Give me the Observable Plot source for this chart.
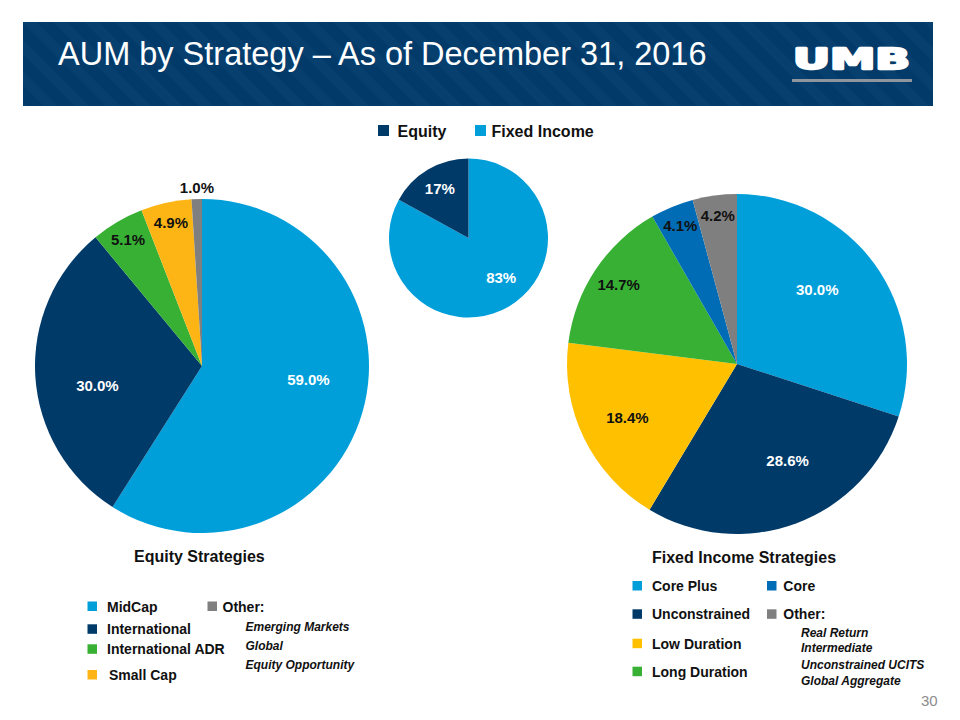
<!DOCTYPE html>
<html>
<head>
<meta charset="utf-8">
<script src="https://cdn.jsdelivr.net/npm/d3@7"></script>
<script src="https://cdn.jsdelivr.net/npm/@observablehq/plot@0.6"></script>
<style>
  html, body { margin: 0; padding: 0; background: #ffffff; }
  #page { position: relative; width: 960px; height: 720px; overflow: hidden; font-family: "Liberation Sans", Arial, sans-serif; }
  #bg { position: absolute; left: 0; top: 0; }
  #chart { position: absolute; left: 0; top: 110px; }
</style>
</head>
<body>
<div id="page">
  <svg id="bg" width="960" height="720"></svg>
  <div id="chart"></div>
</div>
<script>
// ---------------- DATA ----------------
const titleText = "AUM by Strategy – As of December 31, 2016";
const pageNumber = "30";

const allocationCategories = ["Equity", "Fixed Income"];
const allocationValues = [17, 83];
const allocationPieOrder = ["Fixed Income", "Equity"];

const equityTitle = "Equity Strategies";
const equityCategories = ["MidCap", "International", "International ADR", "Small Cap", "Other"];
const equityValues = [59.0, 30.0, 5.1, 4.9, 1.0];
const equityOtherItems = ["Emerging Markets", "Global", "Equity Opportunity"];

const fixedIncomeTitle = "Fixed Income Strategies";
const fixedIncomeCategories = ["Core Plus", "Unconstrained", "Low Duration", "Long Duration", "Core", "Other"];
const fixedIncomeValues = [30.0, 28.6, 18.4, 14.7, 4.1, 4.2];
const fixedIncomeOtherItems = ["Real Return", "Intermediate", "Unconstrained UCITS", "Global Aggregate"];

// ---------------- STYLE ----------------
const LIGHT = "#009FDA", NAVY = "#003A69", GREEN = "#37B034", AMBER = "#FDB515",
      GOLD = "#FFC000", MIDBLUE = "#006CB5", GRAY = "#7F7F7F";
const colorDomain = ["Equity", "Fixed Income", "MidCap", "International", "International ADR", "Small Cap", "Other",
                     "Core Plus", "Unconstrained", "Low Duration", "Long Duration", "Core"];
const colorRange  = [NAVY, LIGHT, LIGHT, NAVY, GREEN, AMBER, GRAY,
                     LIGHT, NAVY, GOLD, GREEN, MIDBLUE];
const colorOf = d3.scaleOrdinal(colorDomain, colorRange);
const FONT = "'Liberation Sans', Arial, sans-serif";

// ---------------- PIE LAYOUT ----------------
const pies = [
  { cats: allocationPieOrder, vals: allocationPieOrder.map(c => allocationValues[allocationCategories.indexOf(c)]),
    cx: 468.5, cy: 238, r: 79.5, fmt: v => d3.format(".0f")(v) + "%" },
  { cats: equityCategories, vals: equityValues, cx: 202, cy: 366, r: 167, fmt: v => d3.format(".1f")(v) + "%" },
  { cats: fixedIncomeCategories, vals: fixedIncomeValues, cx: 737, cy: 364, r: 170, fmt: v => d3.format(".1f")(v) + "%" }
];

// label placement rule (distance from centre as a fraction of the radius, angular shift for big slices)
function labelFraction(v) {
  if (v < 2) return 1.07;
  if (v < 8) return 0.88;
  if (v < 16) return 0.84;
  if (v < 25) return 0.72;
  return 0.64;
}
function labelShift(v) { return v >= 25 && v < 50 ? -0.12 : (v >= 50 ? -0.15 : 0); }

const labelRows = [];
for (const p of pies) {
  const data = p.cats.map((c, i) => ({ cat: c, value: p.vals[i] }));
  const arcs = d3.pie().sort(null).value(d => d.value)(data);
  for (const a of arcs) {
    const mid = (a.startAngle + a.endAngle) / 2 + labelShift(a.data.value);
    const f = labelFraction(a.data.value) * p.r;
    const col = colorOf(a.data.cat);
    const outside = labelFraction(a.data.value) > 1;
    labelRows.push({
      x: p.cx + f * Math.sin(mid),
      y: p.cy - f * Math.cos(mid),
      text: p.fmt(a.data.value),
      white: !outside && (col === LIGHT || col === NAVY)
    });
  }
}

function pieMark(index, scales, values, dimensions) {
  const sx = scales && scales.x ? scales.x : (v => v);
  const sy = scales && scales.y ? scales.y : (v => v - 110);
  const color = scales && scales.color ? scales.color : colorOf;
  const g = d3.create("svg:g");
  for (const p of pies) {
    const cx = sx(p.cx), cy = sy(p.cy);
    const r = sx(p.cx + p.r) - cx;
    const data = p.cats.map((c, i) => ({ cat: c, value: p.vals[i] }));
    const arcs = d3.pie().sort(null).value(d => d.value)(data);
    const arc = d3.arc().innerRadius(0).outerRadius(r);
    const gg = g.append("g").attr("transform", `translate(${cx},${cy})`);
    gg.selectAll("path").data(arcs).join("path")
      .attr("d", arc)
      .attr("fill", d => color(d.data.cat));
  }
  return g.node();
}

const chart = Plot.plot({
  width: 960,
  height: 440,
  margin: 0,
  x: { domain: [0, 960], range: [0, 960], axis: null },
  y: { domain: [110, 550], range: [0, 440], axis: null },
  color: { domain: colorDomain, range: colorRange },
  style: { background: "transparent", fontFamily: FONT },
  marks: [
    pieMark,
    Plot.text(labelRows.filter(d => d.white), { x: "x", y: "y", text: "text", fill: "white", fontWeight: "bold", fontSize: 15 }),
    Plot.text(labelRows.filter(d => !d.white), { x: "x", y: "y", text: "text", fill: "#111", fontWeight: "bold", fontSize: 15 })
  ]
});
document.getElementById("chart").appendChild(chart);

// ---------------- HEADER & LEGENDS ----------------
const bg = d3.select("#bg");
const defs = bg.append("defs");
const pat = defs.append("pattern").attr("id", "stripes").attr("patternUnits", "userSpaceOnUse")
  .attr("width", 22).attr("height", 22).attr("patternTransform", "rotate(-45)");
pat.append("rect").attr("width", 22).attr("height", 22).attr("fill", "#023A6A");
pat.append("rect").attr("width", 10).attr("height", 22).attr("fill", "#07406F");

bg.append("rect").attr("x", 23).attr("y", 22).attr("width", 910).attr("height", 84).attr("fill", "url(#stripes)");
bg.append("text").attr("x", 58).attr("y", 65).attr("fill", "#ffffff")
  .attr("font-family", FONT).attr("font-size", 32.5).text(titleText);
bg.append("text").attr("x", 793).attr("y", 69).attr("fill", "#ffffff").attr("stroke", "#ffffff").attr("stroke-width", 2.4)
  .attr("stroke-linejoin", "round")
  .attr("font-family", "'DejaVu Sans', sans-serif").attr("font-weight", "bold").attr("font-size", 29)
  .attr("textLength", 117).attr("lengthAdjust", "spacingAndGlyphs").text("UMB");
bg.append("rect").attr("x", 792).attr("y", 79).attr("width", 120).attr("height", 3).attr("fill", "#8E959C");

function legendItem(x, textX, baseline, size, color, label, fontSize) {
  bg.append("rect").attr("x", x).attr("y", baseline - size - 0.5).attr("width", size).attr("height", size).attr("fill", color);
  bg.append("text").attr("x", textX).attr("y", baseline).attr("fill", "#111")
    .attr("font-family", FONT).attr("font-weight", "bold").attr("font-size", fontSize).text(label);
}
function plainText(x, y, label, size, opts = {}) {
  bg.append("text").attr("x", x).attr("y", y).attr("fill", opts.fill || "#111")
    .attr("font-family", FONT).attr("font-weight", opts.weight || "bold")
    .attr("font-style", opts.style || "normal").attr("font-size", size).text(label);
}

// top legend
legendItem(378, 397.5, 136.5, 11, colorOf("Equity"), "Equity", 16);
legendItem(475, 491.5, 136.5, 11, colorOf("Fixed Income"), "Fixed Income", 16);

// equity legend
plainText(134, 562, equityTitle, 16);
const eqRows = [611.5, 634.3, 654.3, 680];
equityCategories.slice(0, 4).forEach((c, i) => legendItem(87.5, i === 3 ? 109 : 107, eqRows[i], 9.5, colorOf(c), c, 14));
legendItem(207.5, 222.5, 611.5, 9.5, colorOf("Other"), "Other:", 14);
const eqOtherRows = [630.5, 650, 669];
equityOtherItems.forEach((t, i) => plainText(245.5, eqOtherRows[i], t, 12, { style: "italic" }));

// fixed income legend
plainText(652, 562.5, fixedIncomeTitle, 16);
const fiRows = [591, 619.3, 648.7, 676.7];
fixedIncomeCategories.slice(0, 4).forEach((c, i) => legendItem(632.5, 652, fiRows[i], 9.5, colorOf(c), c, 14));
legendItem(767, 783.3, fiRows[0], 9.5, colorOf("Core"), "Core", 14);
legendItem(767, 783.3, fiRows[1], 9.5, colorOf("Other"), "Other:", 14);
const fiOtherRows = [636.7, 652.3, 669, 685];
fixedIncomeOtherItems.forEach((t, i) => plainText(801, fiOtherRows[i], t, 12, { style: "italic" }));

// page number
plainText(921, 706, pageNumber, 15, { weight: "normal", fill: "#8C8C8C" });
</script>
</body>
</html>
